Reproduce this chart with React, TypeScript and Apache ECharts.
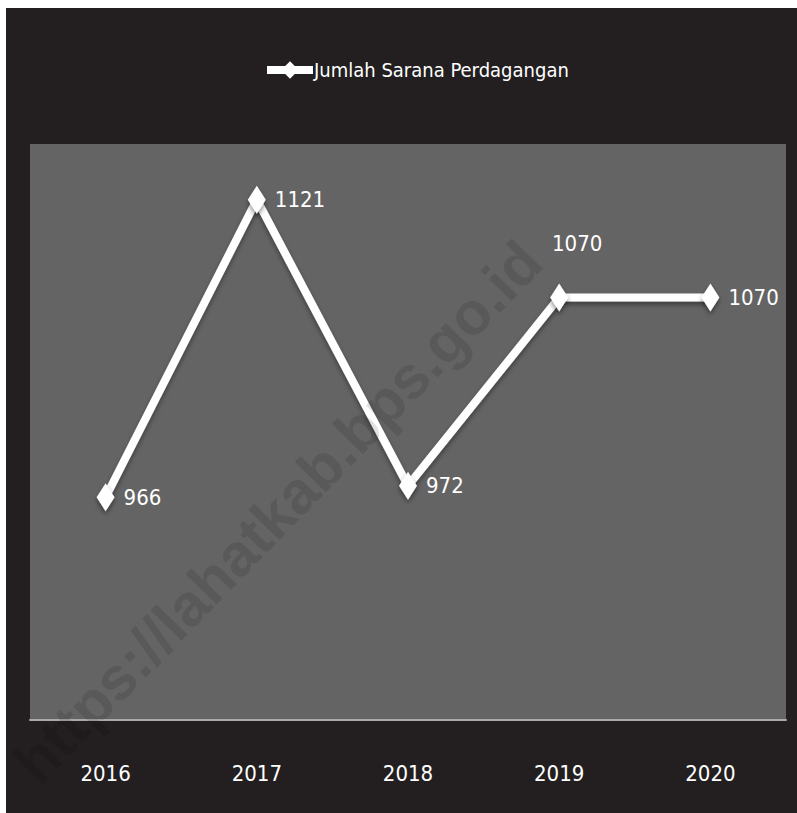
import React, { useEffect, useRef } from "react";
import * as echarts from "echarts";

const categories = ["2016", "2017", "2018", "2019", "2020"];
const seriesName = "Jumlah Sarana Perdagangan";
const values = [966, 1121, 972, 1070, 1070];
const labelPositions = ["right", "right", "right", "top", "right"];
const watermarkText = "https://lahatkab.bps.go.id";

const FONT = "'Liberation Sans Narrow', 'DejaVu Sans Condensed', 'Open Sans', sans-serif";

export default function App() {
  const ref = useRef<HTMLDivElement>(null);
  useEffect(() => {
    if (!ref.current) return;
    const chart = echarts.init(ref.current, null, { renderer: "svg" });
    const data = values.map((v, i) => {
      const pos = labelPositions[i];
      return {
        value: v,
        label:
          pos === "top"
            ? { position: "top", offset: [18, -24] }
            : { position: "right", distance: 9 },
      };
    });
    chart.setOption({
      animation: false,
      backgroundColor: "transparent",
      graphic: [
        {
          type: "rect",
          z: -10,
          silent: true,
          shape: { x: 6, y: 8, width: 791, height: 805 },
          style: { fill: "#231f20" },
        },
        {
          type: "text",
          z: 100,
          silent: true,
          x: 278,
          y: 512,
          rotation: 0.8,
          style: {
            text: watermarkText,
            fill: "rgba(0,0,0,0.11)",
            font: "bold 60px 'Liberation Sans', Arial, sans-serif",
            align: "center",
            verticalAlign: "middle",
          },
        },
      ],
      legend: {
        top: 55,
        left: 258,
        itemWidth: 46,
        itemHeight: 22,
        itemGap: 10,
        lineStyle: { width: 8 },
        textStyle: { color: "#ffffff", fontSize: 20, fontFamily: FONT, padding: [0, 0, 0, -4] },
        data: [seriesName],
      },
      grid: {
        left: 30,
        right: 11,
        top: 144,
        bottom: 93,
        show: true,
        backgroundColor: "#646464",
        borderWidth: 0,
      },
      xAxis: {
        type: "category",
        data: categories,
        boundaryGap: true,
        axisLine: { show: true, lineStyle: { color: "#a9a9a9", width: 2 } },
        axisTick: { show: false },
        axisLabel: { color: "#ffffff", fontSize: 22, fontFamily: FONT, margin: 42 },
        splitLine: { show: false },
      },
      yAxis: {
        type: "value",
        min: 850,
        max: 1150,
        show: false,
        splitLine: { show: false },
      },
      series: [
        {
          name: seriesName,
          type: "line",
          data,
          symbol: "diamond",
          symbolSize: [18, 28],
          itemStyle: {
            color: "#ffffff",
            shadowColor: "rgba(0,0,0,0.45)",
            shadowBlur: 5,
            shadowOffsetY: 3,
          },
          lineStyle: {
            color: "#ffffff",
            width: 8,
            shadowColor: "rgba(0,0,0,0.4)",
            shadowBlur: 5,
            shadowOffsetY: 3,
          },
          label: {
            show: true,
            color: "#ffffff",
            fontSize: 22,
            fontFamily: FONT,
          },
        },
      ],
    });
    return () => chart.dispose();
  }, []);
  return (
    <div
      ref={ref}
      style={{ position: "absolute", left: 0, top: 0, width: 797, height: 813 }}
    />
  );
}
